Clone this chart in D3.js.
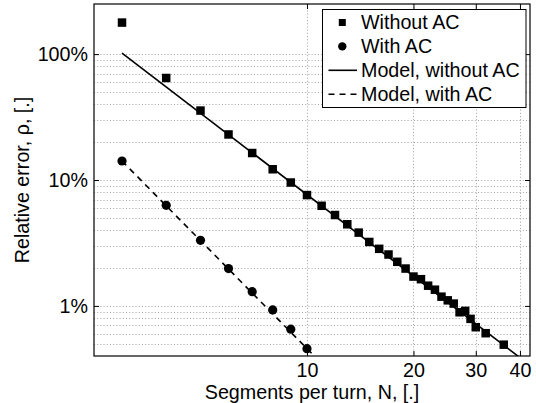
<!DOCTYPE html>
<html><head><meta charset="utf-8">
<script src="https://cdn.jsdelivr.net/npm/d3@7"></script>
<style>
html,body{margin:0;padding:0;background:#fff;}
svg{display:block;font-family:"Liberation Sans",Arial,Helvetica,sans-serif;}
</style></head>
<body>
<svg id="c" width="536" height="403"></svg>
<script>
// ---- data ----
const nWithout = [3,4,5,6,7,8,9,10,11,12,13,14,15,16,17,18,19,20,21,22,23,24,25,26,27,28,29,30,32,36];
const rhoWithout = [1.78,0.646,0.356,0.230,0.1638,0.1217,0.0955,0.0759,0.0624,0.0527,0.0445,0.0382,0.0322,0.0284,0.0256,0.0224,0.0198,0.0171,0.0163,0.01447,0.01345,0.01184,0.01107,0.01043,0.0089,0.00913,0.00789,0.00677,0.00607,0.00492];
const nWith = [3,4,5,6,7,8,9,10];
const rhoWith = [0.1416,0.0629,0.0332,0.0198,0.01297,0.00929,0.00653,0.00457];
const modelWithoutN = [3,40];
const modelWithoutRho = [1.018,0.00388];
const modelWithN = [3,11];
const modelWithRho = [0.1416,0.00349];
const xTicks = [10,20,30,40];
const yTicks = [0.01,0.1,1];
const yTickLabels = ["1%","10%","100%"];
const yMinorGrid = [0.005,0.006,0.007,0.008,0.009,0.02,0.03,0.04,0.05,0.06,0.07,0.08,0.09,0.2,0.3,0.4,0.5,0.6,0.7,0.8,0.9];
const legendLabels = ["Without AC","With AC","Model, without AC","Model, with AC"];
const xTitle = "Segments per turn, N, [.]";
const yTitle = "Relative error, \u03c1, [.]";

// ---- layout ----
const L = 94, R = 530, T = 4, B = 356;
const FS = 19.7;
const svg = d3.select("#c");
const x = d3.scaleLog().domain([2.5, 42.7]).range([L, R]);
const y = d3.scaleLog().domain([0.004, 2.5]).range([B, T]);

svg.append("defs").append("clipPath").attr("id","clip")
  .append("rect").attr("x",L).attr("y",T).attr("width",R-L).attr("height",B-T);

// grid
const grid = svg.append("g").attr("stroke","#8a8a8a").attr("stroke-width",0.8).attr("stroke-dasharray","1,2.2").attr("fill","none");
yMinorGrid.concat(yTicks).forEach(v=>{
  grid.append("line").attr("x1",L).attr("x2",R).attr("y1",Math.round(y(v))+0.5).attr("y2",Math.round(y(v))+0.5);
});
xTicks.forEach(v=>{
  grid.append("line").attr("y1",T).attr("y2",B).attr("x1",Math.round(x(v))+0.5).attr("x2",Math.round(x(v))+0.5);
});

// axes
const xAxisB = d3.axisBottom(x).tickValues(xTicks).tickFormat(d3.format("d")).tickSizeInner(-5).tickSizeOuter(0).tickPadding(0);
const xAxisT = d3.axisTop(x).tickValues(xTicks).tickFormat("").tickSizeInner(-5).tickSizeOuter(0);
const yAxisL = d3.axisLeft(y).tickValues(yTicks).tickFormat((d,i)=>yTickLabels[i]).tickSizeInner(-5).tickSizeOuter(0).tickPadding(6);
const yAxisR = d3.axisRight(y).tickValues(yTicks).tickFormat("").tickSizeInner(-5).tickSizeOuter(0);
function style(g){ g.select(".domain").remove(); g.selectAll("line").attr("stroke","#000"); g.selectAll("text").attr("font-size",FS).attr("fill","#000").attr("font-family","Liberation Sans, Arial, sans-serif"); }
const gxb = svg.append("g").attr("transform",`translate(0,${B})`).call(xAxisB).call(style);
gxb.selectAll("text").attr("y",21).attr("dy",null);
svg.append("g").attr("transform",`translate(0,${T})`).call(xAxisT).call(style);
svg.append("g").attr("transform",`translate(${L},0)`).call(yAxisL).call(style);
svg.append("g").attr("transform",`translate(${R},0)`).call(yAxisR).call(style);

// plot
const plot = svg.append("g").attr("clip-path","url(#clip)");
const line = d3.line().x(d=>x(d[0])).y(d=>y(d[1]));
plot.append("path").datum(d3.zip(modelWithoutN, modelWithoutRho)).attr("d",line)
  .attr("fill","none").attr("stroke","#000").attr("stroke-width",1.6);
plot.append("path").datum(d3.zip(modelWithN, modelWithRho)).attr("d",line)
  .attr("fill","none").attr("stroke","#000").attr("stroke-width",1.6).attr("stroke-dasharray","6,5");
const S = 8.5;
plot.selectAll("rect.sq").data(d3.zip(nWithout, rhoWithout)).enter().append("rect")
  .attr("x",d=>x(d[0])-S/2).attr("y",d=>y(d[1])-S/2).attr("width",S).attr("height",S).attr("fill","#000");
plot.selectAll("circle.ci").data(d3.zip(nWith, rhoWith)).enter().append("circle")
  .attr("cx",d=>x(d[0])).attr("cy",d=>y(d[1])).attr("r",4.6).attr("fill","#000");

// frame
svg.append("rect").attr("x",L).attr("y",T).attr("width",R-L).attr("height",B-T)
  .attr("fill","none").attr("stroke","#000").attr("stroke-width",1.2);

// titles
svg.append("text").attr("x",(L+R)/2).attr("y",398.7).attr("text-anchor","middle").attr("font-size",FS).text(xTitle);
svg.append("text").attr("transform",`translate(29,${(T+B)/2}) rotate(-90)`).attr("text-anchor","middle").attr("font-size",FS).text(yTitle);

// legend
const lg = svg.append("g");
const lx = 322.5, ly = 9.5, lw = 203.5, lh = 98;
lg.append("rect").attr("x",lx).attr("y",ly).attr("width",lw).attr("height",lh).attr("fill","#fff").attr("stroke","#000").attr("stroke-width",1);
const rowY = i => 22.5 + i*23.9;
legendLabels.forEach((t,i)=>{
  lg.append("text").attr("x",361).attr("y",rowY(i)).attr("dy","0.35em").attr("font-size",FS).text(t);
});
lg.append("rect").attr("x",342.3-3.5).attr("y",rowY(0)-3.5).attr("width",7).attr("height",7).attr("fill","#000");
lg.append("circle").attr("cx",342.3).attr("cy",rowY(1)).attr("r",4.2).attr("fill","#000");
lg.append("line").attr("x1",328.5).attr("x2",357).attr("y1",rowY(2)).attr("y2",rowY(2)).attr("stroke","#000").attr("stroke-width",1.6);
lg.append("line").attr("x1",328.5).attr("x2",357).attr("y1",rowY(3)).attr("y2",rowY(3)).attr("stroke","#000").attr("stroke-width",1.6).attr("stroke-dasharray","6,5");
</script>
</body></html>
